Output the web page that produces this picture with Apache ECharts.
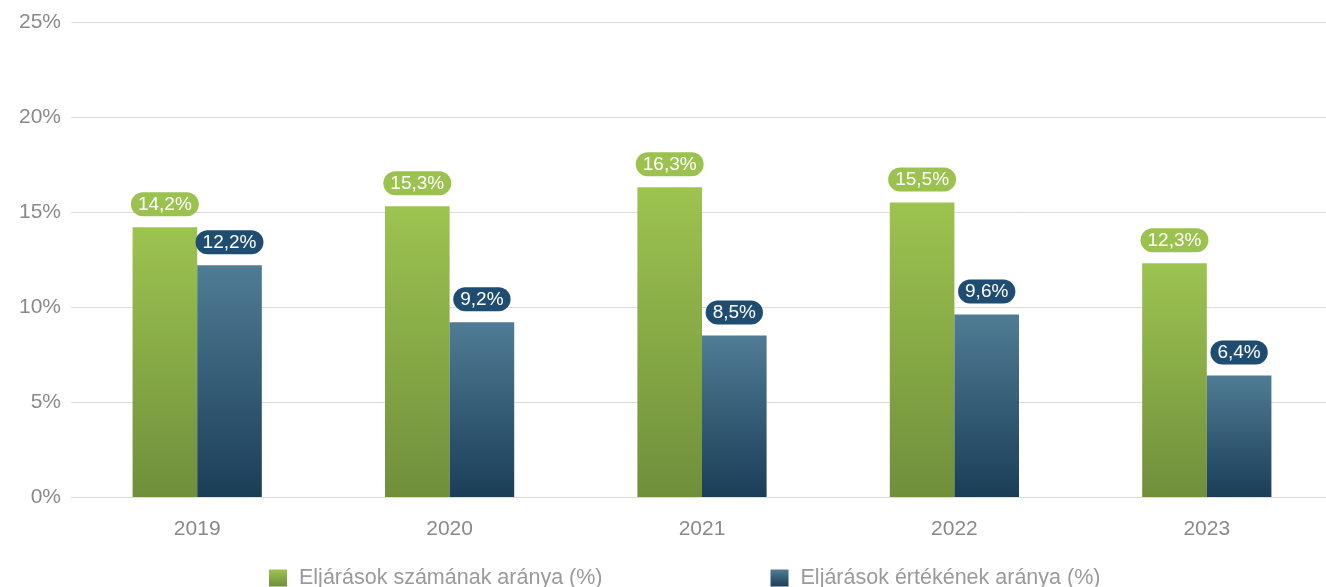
<!DOCTYPE html>
<html>
<head>
<meta charset="utf-8">
<script src="https://cdn.jsdelivr.net/npm/echarts@6/dist/echarts.min.js"></script>
<style>
html,body{margin:0;padding:0;background:#fff;overflow:hidden;}
#chart{width:1333px;height:587px;}
</style>
</head>
<body>
<div id="chart"></div>
<script>
// adatok
const years = ['2019', '2020', '2021', '2022', '2023'];
const szamArany = [14.2, 15.3, 16.3, 15.5, 12.3];
const ertekArany = [12.2, 9.2, 8.5, 9.6, 6.4];
const seriesNames = ['Eljárások számának aránya (%)', 'Eljárások értékének aránya (%)'];

var myChart = echarts.init(document.getElementById('chart'));

function grad(top, bottom) {
    return new echarts.graphic.LinearGradient(0, 0, 0, 1, [
        {offset: 0, color: top},
        {offset: 1, color: bottom}
    ]);
}
function fmt(p) {
    return p.value.toFixed(1).replace('.', ',') + '%';
}
const font = 'Liberation Sans';

var option = {
    animation: false,
    grid: {left: 71, right: 0, top: 22, bottom: 90},
    legend: {
        data: seriesNames,
        icon: 'rect',
        top: 567,
        left: 269,
        padding: 0,
        itemWidth: 18,
        itemHeight: 17,
        itemGap: 168,
        textStyle: {color: '#9a9a9e', fontSize: 21.5, fontFamily: font, padding: [0, 0, 0, 7]}
    },
    xAxis: {
        type: 'category',
        data: years,
        axisLine: {lineStyle: {color: '#dcdcdc'}},
        axisTick: {show: false},
        axisLabel: {color: '#8a8a8e', fontSize: 21, margin: 22, fontFamily: font}
    },
    yAxis: {
        type: 'value',
        min: 0,
        max: 25,
        interval: 5,
        axisLabel: {formatter: '{value}%', color: '#8a8a8e', fontSize: 21, margin: 10, fontFamily: font},
        splitLine: {lineStyle: {color: '#dcdcdc'}}
    },
    series: [
        {
            name: seriesNames[0],
            type: 'bar',
            data: szamArany,
            barGap: '0%',
            barCategoryGap: '48.8%',
            itemStyle: {color: grad('#9dc350', '#6f8f3b')},
            label: {
                show: true, position: 'top', distance: 11, formatter: fmt,
                color: '#fff', fontSize: 19, lineHeight: 19, fontFamily: font,
                backgroundColor: '#9bc14f', borderRadius: 12, padding: [3, 7, 2, 7]
            }
        },
        {
            name: seriesNames[1],
            type: 'bar',
            data: ertekArany,
            itemStyle: {color: grad('#4f7c94', '#1b3e57')},
            label: {
                show: true, position: 'top', distance: 11, formatter: fmt,
                color: '#fff', fontSize: 19, lineHeight: 19, fontFamily: font,
                backgroundColor: '#1f4d72', borderRadius: 12, padding: [3, 7, 2, 7]
            }
        }
    ]
};
myChart.setOption(option);
</script>
</body>
</html>
